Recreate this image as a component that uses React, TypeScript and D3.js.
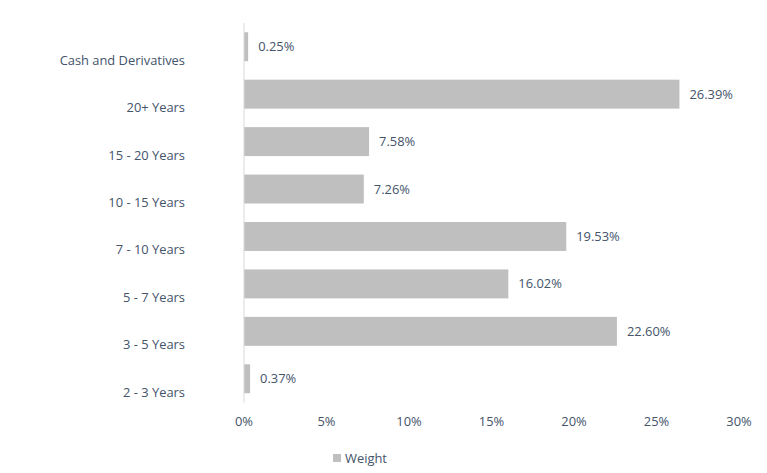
import React from "react";
import * as d3 from "d3";

const categories = ["Cash and Derivatives", "20+ Years", "15 - 20 Years", "10 - 15 Years", "7 - 10 Years", "5 - 7 Years", "3 - 5 Years", "2 - 3 Years"];
const weights = [0.25, 26.39, 7.58, 7.26, 19.53, 16.02, 22.6, 0.37];
const xTicks = [0, 5, 10, 15, 20, 25, 30];
const seriesName = "Weight";

export default function App() {
  const W = 767, H = 473;
  const x = d3.scaleLinear().domain([0, 30]).range([244, 739]);
  const y = d3.scaleBand<string>().domain(categories).range([23, 402.5]).paddingInner(0.39).paddingOuter(0.195);
  const font = "'Open Sans', sans-serif";
  const textColor = "#44546A";
  const fs = 12.9;
  return (
    <svg width={W} height={H} style={{ position: "absolute", left: 0, top: 0 }} fontFamily={font}>
      <rect width={W} height={H} fill="#fff" />
      {categories.map((c, i) => {
        const yy = y(c)!;
        const bw = y.bandwidth();
        return (
          <g key={c}>
            <rect x={x(0)} y={yy} width={x(weights[i]) - x(0)} height={bw} fill="#BFBFBF" />
            <text x={x(weights[i]) + 10} y={yy + bw / 2} dy="0.35em" fontSize={fs} fill={textColor}>
              {weights[i].toFixed(2)}%
            </text>
            <text x={185} y={yy + bw / 2 + 13.5} dy="0.35em" textAnchor="end" fontSize={fs} fill={textColor}>
              {c}
            </text>
          </g>
        );
      })}
      <line x1={x(0)} x2={x(0)} y1={23} y2={402.5} stroke="#D9D9D9" strokeWidth={1} />
      {xTicks.map((t) => (
        <text key={t} x={x(t)} y={421.5} dy="0.35em" textAnchor="middle" fontSize={fs} fill={textColor}>
          {t}%
        </text>
      ))}
      <rect x={333} y={454} width={8} height={8} fill="#BFBFBF" />
      <text x={345} y={458} dy="0.35em" fontSize={fs} fill={textColor}>{seriesName}</text>
    </svg>
  );
}
